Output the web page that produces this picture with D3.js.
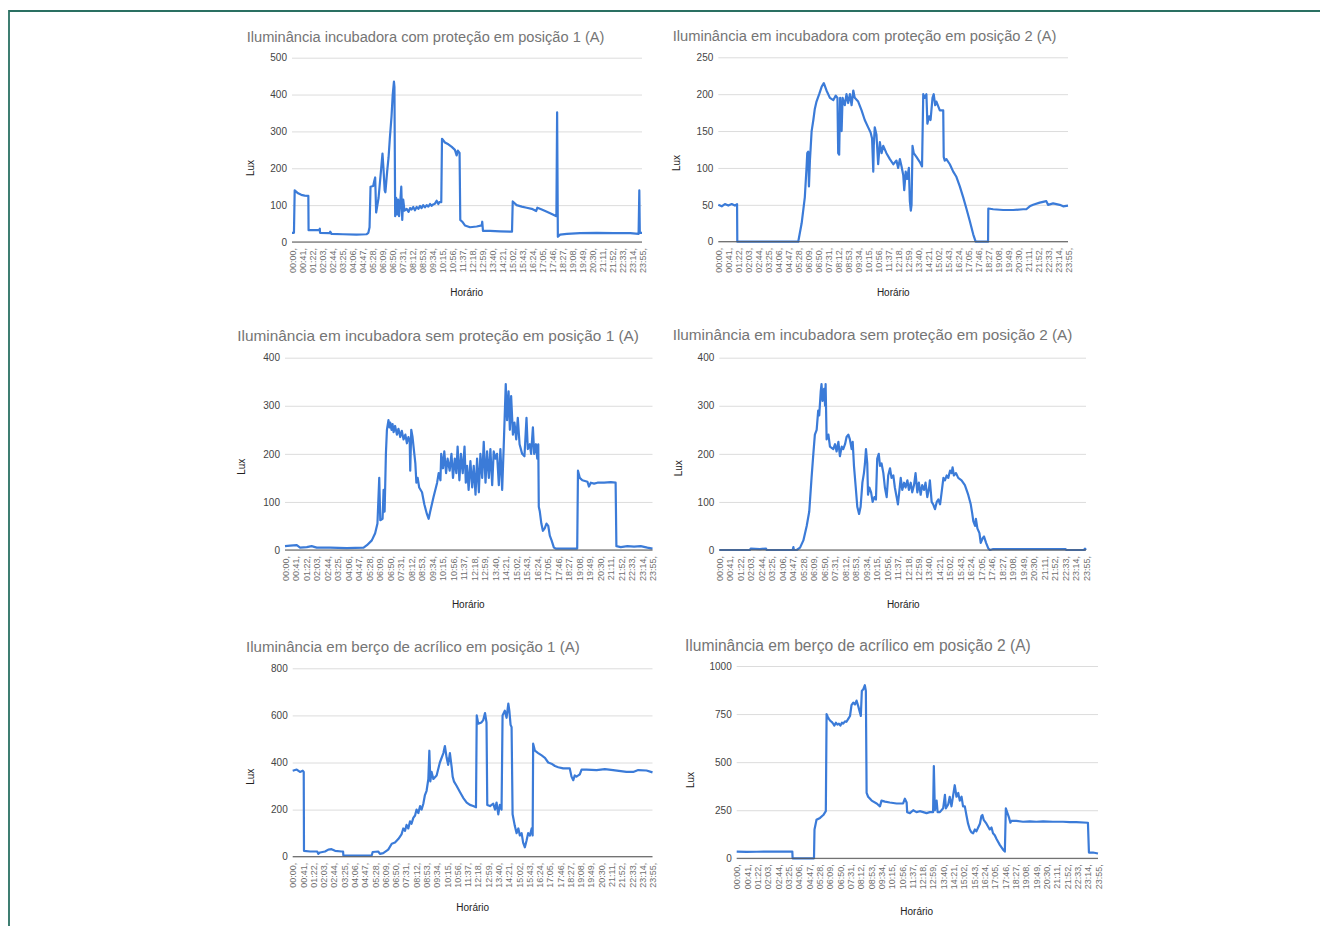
<!DOCTYPE html>
<html>
<head>
<meta charset="utf-8">
<script src="https://cdn.jsdelivr.net/npm/d3@7"></script>
<style>
  html, body { margin: 0; padding: 0; background: #fff; }
  svg { display: block; }
  text { font-family: "Liberation Sans", Arial, sans-serif; }
</style>
</head>
<body>
<svg id="fig" width="1320" height="926"></svg>
<script>
// Shared category labels of the time axis (one label every 41 readings)
const timeLabels = ["00:00","00:41","01:22","02:03","02:44","03:25","04:06","04:47","05:28","06:09",
  "06:50","07:31","08:12","08:53","09:34","10:15","10:56","11:37","12:18","12:59","13:40","14:21",
  "15:02","15:43","16:24","17:05","17:46","18:27","19:08","19:49","20:30","21:11","21:52","22:33",
  "23:14","23:55"];

// Readings: [minute of the day, lux]
const incComProtPos1 = [[0,25],[8,25],[11,140],[25,132],[38,128],[52,126],[67,125],[68,32],[93,32],[111,32],
  [114,36],[115,25],[155,24],[157,28],[162,22],[209,21],[264,20],[305,21],[313,25],[318,40],[322,150],[333,152],
  [337,165],[341,175],[345,80],[355,120],[363,180],[371,240],[375,200],[380,140],[383,135],[390,190],[396,230],
  [401,280],[408,340],[413,400],[418,435],[420,420],[423,70],[427,120],[431,75],[435,115],[439,70],[444,110],
  [448,150],[452,60],[456,115],[461,85],[470,90],[478,82],[484,92],[490,88],[497,95],[504,86],[511,95],[518,90],
  [525,98],[531,92],[538,100],[545,94],[552,100],[559,96],[566,103],[572,98],[579,102],[586,104],[593,112],
  [600,103],[604,108],[612,108],
  [615,280],[627,270],[641,265],[655,258],[668,250],[675,235],[680,248],[687,242],
  [690,60],[698,55],[709,45],[730,40],[757,42],[778,45],[780,55],[783,30],[812,30],[853,29],[902,28],[905,110],
  [921,100],[942,96],[962,93],[983,90],[1001,84],[1006,93],[1024,88],[1045,82],[1065,76],[1084,70],[1087,352],
  [1090,14],[1099,20],[1127,22],[1181,24],[1250,25],[1318,24],[1387,24],[1421,22],[1424,140],[1426,25],[1435,25]];

const incComProtPos2 = [[0,50],[14,48],[27,51],[41,49],[55,51],[68,49],[77,51],[78,0],[328,0],[342,25],[355,60],
  [362,100],[365,120],[369,122],[372,75],[376,110],[383,150],[390,165],[396,180],[403,190],[414,200],[424,210],
  [433,215],[444,205],[458,195],[472,192],[482,198],[489,195],[492,120],[496,118],[500,195],[506,150],[510,195],
  [519,185],[526,200],[533,188],[540,200],[547,185],[554,205],[560,195],[574,190],[588,178],[601,165],[615,155],
  [625,148],[631,140],[636,95],[638,130],[642,155],[649,145],[656,105],[663,135],[670,120],[677,130],[690,120],
  [704,112],[718,105],[731,110],[738,100],[745,112],[752,102],[759,90],[763,70],[769,95],[775,85],[782,100],
  [786,55],[790,42],[793,50],[797,130],[802,120],[813,115],[827,108],[836,102],[841,200],[847,195],[854,200],
  [858,160],[865,170],[871,165],[879,195],[884,200],[890,185],[895,190],[909,178],[923,178],[925,115],[929,110],
  [936,112],[950,105],[964,95],[977,88],[991,75],[1005,60],[1018,45],[1032,28],[1046,10],[1056,0],[1107,0],
  [1108,45],[1128,44],[1169,43],[1210,43],[1251,44],[1264,44],[1278,48],[1292,50],[1319,53],[1346,55],[1353,50],
  [1374,52],[1401,50],[1415,48],[1435,49]];

const incSemProtPos1 = [[0,8],[20,9],[46,10],[59,5],[85,6],[104,8],[124,5],[176,5],[241,4],[307,5],[320,10],
  [339,20],[352,35],[361,55],[368,150],[372,62],[381,65],[385,125],[389,80],[394,200],[398,250],[404,270],
  [408,255],[411,265],[416,250],[420,262],[424,245],[430,258],[437,240],[443,252],[450,235],[456,248],[463,230],
  [470,240],[476,222],[482,235],[487,225],[489,165],[493,250],[498,235],[505,200],
  [509,180],[513,140],[518,150],[524,130],[535,120],[544,95],[554,75],[561,65],[567,80],[580,110],[594,140],
  [600,160],[607,145],[610,200],[617,170],[622,205],[629,160],[635,190],[643,165],[650,200],[656,150],[663,190],
  [669,160],[674,215],[681,145],[687,200],[694,160],[701,215],[706,140],[711,175],[717,125],[724,185],[731,130],
  [737,175],[744,115],[750,190],[757,120],[763,200],[770,150],[776,225],[783,140],[789,205],[796,150],[802,210],
  [809,135],[815,205],[822,190],[828,200],[835,135],[841,210],[848,125],[854,215],[858,280],[862,345],[867,270],
  [873,330],[878,250],[883,320],[890,240],[896,265],[903,230],[909,275],[916,220],[926,200],[935,195],[943,275],
  [948,210],[956,220],[961,200],[968,255],[973,200],[980,220],[985,190],[989,220],[991,90],[995,80],[1001,55],
  [1007,40],[1014,45],[1021,55],[1028,50],[1034,30],[1041,20],[1050,5],[1057,3],[1102,3],[1141,3],[1144,165],
  [1151,150],[1161,145],[1181,142],[1187,132],[1194,140],[1207,138],[1220,140],[1246,140],[1272,141],[1291,140],
  [1294,8],[1311,6],[1337,8],[1363,7],[1389,8],[1415,5],[1435,3]];

const incSemProtPos2 = [[0,0],[120,0],[123,3],[159,2],[183,3],[185,0],[287,0],[290,6],[292,0],[303,0],[316,5],
  [329,20],[342,50],[352,80],[361,150],[368,200],[374,240],[381,250],[387,290],[391,280],[397,330],[400,345],
  [404,310],[410,335],[414,300],[416,345],[420,230],[427,240],[433,215],[446,210],[453,220],[459,205],[466,225],
  [472,195],[479,215],[485,210],[492,220],[498,235],[505,240],[511,230],[518,210],[522,225],[527,175],[534,130],
  [540,90],[547,75],[553,90],[560,140],[566,160],[570,180],[574,210],[579,180],[582,115],[587,130],[594,120],
  [600,100],[607,110],[613,105],[618,190],[624,200],[629,175],[635,180],[642,160],[648,130],[655,110],[661,155],
  [668,170],[674,150],[681,155],[687,130],[694,110],[699,95],[704,120],[710,150],[716,125],[723,140],[729,130],
  [736,145],[742,125],[749,140],[755,120],[762,135],[768,160],[775,120],[781,140],[788,115],[794,135],[801,125],
  [807,140],[814,110],[821,130],[824,145],[831,100],[837,95],[844,85],[851,100],[857,105],[864,95],[870,120],
  [877,150],[883,145],[890,155],[896,150],[903,165],[909,160],[913,172],[918,155],[926,160],[935,150],[948,145],
  [961,135],[974,115],[984,95],[990,75],[994,60],[1001,50],[1004,65],[1010,45],[1018,35],[1023,15],[1031,25],
  [1036,28],[1044,15],[1053,3],[1059,0],[1072,2],[1203,2],[1353,2],[1359,0],[1427,0],[1431,3],[1435,0]];

const bercoPos1 = [[0,365],[16,370],[29,360],[40,365],[44,360],[45,25],[69,22],[98,22],[102,12],[109,18],[129,22],
  [142,30],[155,32],[169,25],[195,22],[201,22],[202,5],[255,5],[315,5],[319,20],[341,22],[348,12],[361,15],
  [381,30],[395,55],[408,60],[421,75],[434,95],[441,120],[448,110],[454,135],[461,120],[468,150],[474,140],
  [481,165],[488,175],[494,200],[501,185],[508,215],[514,200],[521,225],[527,260],[534,280],[541,330],[545,450],
  [549,320],[554,360],[561,330],[574,345],[587,400],[601,440],[607,470],[614,420],[620,390],[627,440],[634,380],
  [638,340],[643,320],[654,300],[667,275],[680,250],[694,230],[707,220],[720,215],[731,210],[734,600],[740,565],
  [753,570],[760,580],[767,610],[773,570],[776,220],[787,215],[800,225],[807,200],[813,230],[820,180],[826,220],
  [833,200],[837,600],[846,620],[853,590],[860,650],[864,620],[869,560],[873,550],[877,180],[886,130],[893,100],
  [900,120],[906,90],[913,100],[919,60],[926,40],[933,70],[939,100],[946,90],[953,120],[957,90],[959,480],
  [966,450],[979,440],[993,430],[1006,420],[1019,400],[1032,395],[1046,385],[1059,380],[1079,375],[1105,375],
  [1112,340],[1119,325],[1125,345],[1132,340],[1139,345],[1145,350],[1152,370],[1172,370],[1212,368],[1245,372],
  [1278,368],[1331,360],[1358,360],[1378,368],[1411,366],[1435,358]];

const bercoPos2 = [[0,35],[40,33],[79,34],[132,35],[185,35],[221,35],[222,0],[307,0],[309,150],[317,200],[331,210],
  [344,225],[354,245],[357,750],[362,735],[366,725],[372,715],[377,710],[383,700],[388,690],[394,705],[400,695],
  [406,700],[412,690],[418,705],[423,700],[430,712],[436,710],[443,725],[450,740],[456,797],
  [463,810],[470,800],[476,820],[483,790],[489,760],[493,740],[497,870],[503,880],[509,900],[513,870],[516,340],
  [522,320],[536,300],[556,285],[569,270],[575,300],[589,295],[608,290],[635,285],[661,285],[668,310],[675,290],
  [677,240],[688,235],[701,250],[714,240],[727,245],[741,240],[754,235],[767,240],[780,240],[783,480],[787,250],
  [794,300],[798,240],[807,240],[820,260],[827,330],[831,260],[840,280],[846,320],[853,270],[860,330],[866,380],
  [873,320],[880,340],[886,300],[893,320],[899,270],[906,270],[913,220],[919,180],[926,150],[932,135],[939,130],
  [946,150],[952,140],[959,160],[966,180],[972,220],[976,225],[981,200],[992,180],[1005,150],[1012,160],
  [1018,130],[1025,120],[1032,100],[1045,70],[1058,45],[1065,35],[1069,260],[1074,240],[1082,210],[1087,185],
  [1091,195],[1111,195],[1137,190],[1164,192],[1190,190],[1217,192],[1256,190],[1296,190],[1323,188],[1349,188],
  [1395,185],[1399,30],[1415,30],[1435,25]];

// Value axis ticks per chart
const ticks500 = [0,100,200,300,400,500];
const ticks250 = [0,50,100,150,200,250];
const ticks400 = [0,100,200,300,400];
const ticks800 = [0,200,400,600,800];
const ticks1000 = [0,250,500,750,1000];

const titles = [
  "Iluminância incubadora com proteção em posição 1 (A)",
  "Iluminância em incubadora com proteção em posição 2 (A)",
  "Iluminância em incubadora sem proteção em posição 1 (A)",
  "Iluminância em incubadora sem proteção em posição 2 (A)",
  "Iluminância em berço de acrílico em posição 1 (A)",
  "Iluminância em berço de acrílico em posição 2 (A)"
];

// Layout of each chart on the page
const panels = [
  { title: titles[0], data: incComProtPos1, ticks: ticks500, l: 292, r: 642, t: 57.7, b: 242,
    tx: 246.7, ty: 41.7, tw: 358, lux: [250, 168], hor: [466.7, 296] },
  { title: titles[1], data: incComProtPos2, ticks: ticks250, l: 718.3, r: 1068, t: 57.3, b: 241.7,
    tx: 672.7, ty: 40.7, tw: 384, lux: [676.7, 163], hor: [893.3, 296] },
  { title: titles[2], data: incSemProtPos1, ticks: ticks400, l: 285, r: 652.5, t: 357.7, b: 550,
    tx: 237.3, ty: 340.7, tw: 402, lux: [241.7, 466.7], hor: [468.3, 607.5] },
  { title: titles[3], data: incSemProtPos2, ticks: ticks400, l: 719.3, r: 1086, t: 357.7, b: 550,
    tx: 672.7, ty: 340, tw: 400, lux: [678.3, 468.3], hor: [903.3, 607.5] },
  { title: titles[4], data: bercoPos1, ticks: ticks800, l: 292.7, r: 652.5, t: 668.3, b: 856.7,
    tx: 246, ty: 651.7, tw: 334, lux: [250.7, 776.7], hor: [472.7, 911] },
  { title: titles[5], data: bercoPos2, ticks: ticks1000, l: 736.7, r: 1098, t: 666, b: 858.3,
    tx: 685, ty: 650.7, tw: 346, lux: [690.7, 780], hor: [916.7, 915] }
];

const svg = d3.select("#fig");
const toMinutes = s => +s.slice(0, 2) * 60 + +s.slice(3, 5);

// Page frame (top and left rules)
svg.append("line").attr("x1", 9).attr("x2", 1320).attr("y1", 11).attr("y2", 11)
  .attr("stroke", "#2a7062").attr("stroke-width", 2);
svg.append("line").attr("x1", 9).attr("x2", 9).attr("y1", 10).attr("y2", 926)
  .attr("stroke", "#2a7062").attr("stroke-width", 1.8);

panels.forEach(p => {
  const g = svg.append("g");
  const x = d3.scaleLinear().domain([0, 1435]).range([p.l, p.r]);
  const y = d3.scaleLinear().domain([0, d3.max(p.ticks)]).range([p.b, p.t]);

  // Title, sized to its measured width
  const title = g.append("text").attr("x", p.tx).attr("y", p.ty)
    .attr("fill", "#757575").style("font-size", "13px").text(p.title);
  const w = title.node().getComputedTextLength();
  title.style("font-size", (13 * p.tw / w).toFixed(2) + "px");

  // Value axis with gridlines
  const ya = g.append("g").attr("transform", `translate(${p.l},0)`)
    .call(d3.axisLeft(y).tickValues(p.ticks).tickFormat(d3.format("d"))
      .tickSize(-(p.r - p.l)).tickPadding(5));
  ya.select(".domain").remove();
  ya.selectAll(".tick line").attr("stroke", "#dcdcdc").attr("stroke-width", 1);
  ya.selectAll(".tick text").attr("fill", "#444").style("font-size", "10px")
    .style("font-family", "'Liberation Sans', Arial, sans-serif");

  // Time axis with rotated labels
  const xa = g.append("g").attr("transform", `translate(0,${p.b})`)
    .call(d3.axisBottom(x).tickValues(timeLabels.map(toMinutes))
      .tickFormat((d, i) => timeLabels[i] + ",").tickSize(0));
  xa.select(".domain").remove();
  xa.selectAll(".tick text")
    .attr("transform", "rotate(-90)")
    .attr("x", -6).attr("y", 0).attr("dy", "0.35em")
    .attr("text-anchor", "end")
    .attr("fill", "#707070").style("font-size", "9px")
    .style("font-family", "'Liberation Sans', Arial, sans-serif");

  // Series line
  const line = d3.line().x(d => x(d[0])).y(d => y(d[1]));
  g.append("path").datum(p.data).attr("d", line)
    .attr("fill", "none").attr("stroke", "#3b7bd8").attr("stroke-width", 2.2)
    .attr("stroke-linejoin", "round");

  // Baseline
  g.append("line").attr("x1", p.l).attr("x2", p.r).attr("y1", y(0)).attr("y2", y(0))
    .attr("stroke", "#555").attr("stroke-width", 1);

  // Axis titles
  g.append("text").attr("transform", `translate(${p.lux[0]},${p.lux[1]}) rotate(-90)`)
    .attr("text-anchor", "middle").attr("dy", "0.35em")
    .attr("fill", "#222").style("font-size", "10px").text("Lux");
  g.append("text").attr("x", p.hor[0]).attr("y", p.hor[1])
    .attr("text-anchor", "middle").attr("fill", "#222").style("font-size", "10px").text("Horário");
});
</script>
</body>
</html>
